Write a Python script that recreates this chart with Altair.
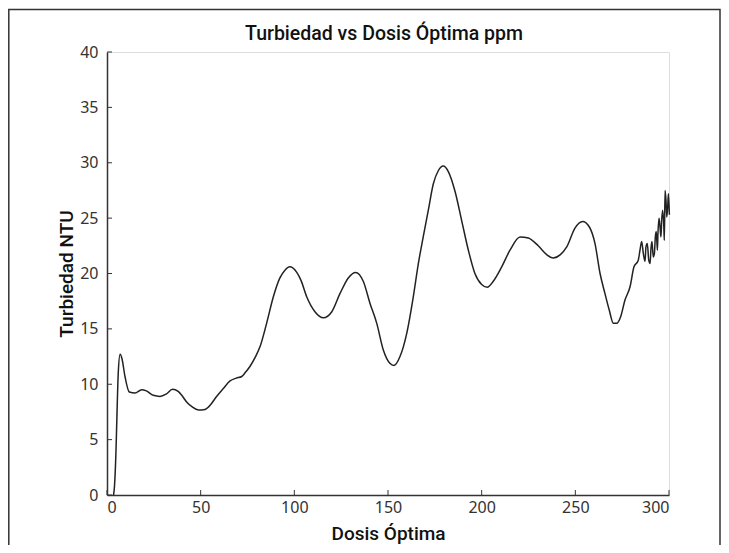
import altair as alt
import pandas as pd

# Dosis Óptima (ppm) and Turbiedad (NTU)
dosis = [3.5, 4.0, 4.8, 5.3, 6.0, 7.0, 8.0, 9.6, 11.9, 15.0, 18.5, 21.0, 24.7, 28.3,
         31.5, 35.0, 38.0, 39.9, 42.5, 45.5, 48.8, 52.3, 55.5, 58.5, 62.0, 65.7, 69.0,
         71.9, 74.0, 76.3, 79.0, 81.7, 85.2, 88.8, 92.3, 95.0, 97.5, 101.3, 103.5, 106.6,
         111.0, 115.5, 120.0, 124.4, 128.8, 132.7, 136.8, 140.4, 144.0, 147.5, 151.0,
         153.2, 156.4, 160.0, 163.5, 166.2, 168.8, 171.5, 174.2, 176.9, 179.5, 182.2,
         185.8, 189.3, 192.9, 196.4, 200.0, 203.0, 206.2, 210.7, 215.1, 220.5, 224.9,
         230.2, 234.7, 238.2, 242.0, 245.4, 249.8, 253.9, 257.5, 260.5, 263.2, 265.8,
         268.1, 270.3, 272.1, 274.2, 276.5, 279.2, 281.3,
         283.6, 284.5, 285.4, 286.3, 287.2, 287.7, 288.4, 289.2, 289.9, 290.4, 290.9,
         291.6, 292.2, 292.7, 293.2, 293.8, 294.1, 294.7, 295.2, 295.7, 296.1, 296.6,
         297.2, 297.5, 297.9, 298.4, 298.8, 299.3, 299.7, 300.2]
turbiedad = [0.0, 0.8, 4.0, 7.1, 11.0, 12.7, 12.3, 10.7, 9.3, 9.2, 9.5, 9.4, 9.0, 8.9,
             9.1, 9.55, 9.35, 9.0, 8.4, 7.95, 7.67, 7.73, 8.2, 8.9, 9.6, 10.3, 10.55,
             10.7, 11.1, 11.6, 12.4, 13.4, 15.5, 17.9, 19.6, 20.3, 20.6, 20.1, 19.4, 17.9,
             16.55, 16.0, 16.55, 18.2, 19.6, 20.1, 19.3, 17.3, 15.5, 13.1, 11.9,
             11.7, 12.5, 14.6, 17.9, 20.9, 23.3, 25.7, 28.1, 29.3, 29.7, 29.2,
             27.4, 24.8, 22.1, 20.0, 19.0, 18.75, 19.3, 20.6, 22.1, 23.3, 23.2,
             22.5, 21.7, 21.4, 21.7, 22.4, 24.1, 24.7, 24.2, 22.7, 20.0, 18.2,
             16.7, 15.5, 15.5, 16.1, 17.6, 18.8, 20.6,
             21.2, 22.1, 22.9, 21.8, 21.1, 22.4, 22.7, 21.2, 20.9, 22.3, 22.9,
             21.5, 21.8, 23.3, 23.8, 22.1, 23.6, 25.0, 24.2, 23.3, 24.8, 25.7,
             24.4, 23.0, 27.5, 26.6, 25.1, 26.0, 27.2, 25.3]

x_ticks = [0, 50, 100, 150, 200, 250, 300]
y_ticks = [0, 5, 10, 15, 20, 25, 30, 35, 40]
title_text = "Turbiedad vs Dosis Óptima ppm"

W, H = 562, 443
PAD_L, PAD_T = 99, 44
CANVAS_W, CANVAS_H = 713, 537
INK = "#333333"
LABEL_FONT = "Noto Sans"
TITLE_FONT = "Roboto"

df = pd.DataFrame({"dosis": dosis, "turbiedad": turbiedad})

xscale = alt.Scale(domain=[0, 300], nice=False)
yscale = alt.Scale(domain=[0, 40], nice=False)

line = alt.Chart(df).mark_line(color="#222222", strokeWidth=1.5, interpolate="monotone").encode(
    x=alt.X("dosis:Q", scale=xscale,
            axis=alt.Axis(title="Dosis Óptima", values=x_ticks, ticks=False, grid=False,
                          domainColor=INK, domainWidth=1.5, labelFont=LABEL_FONT,
                          labelFontSize=16, labelColor=INK, labelPadding=4,
                          titleFont=TITLE_FONT, titleFontSize=19, titleFontWeight=500,
                          titleColor="#111111", titlePadding=9)),
    y=alt.Y("turbiedad:Q", scale=yscale,
            axis=alt.Axis(title="Turbiedad NTU", values=y_ticks, ticks=False, grid=False,
                          domainColor=INK, domainWidth=1.5, labelFont=LABEL_FONT,
                          labelFontSize=16, labelColor=INK, labelPadding=9,
                          titleFont=TITLE_FONT, titleFontSize=19, titleFontWeight=500,
                          titleColor="#111111", titlePadding=3)),
)

xt = alt.Chart(pd.DataFrame({"v": x_ticks})).mark_rule(color=INK, strokeWidth=1).encode(
    x=alt.X("v:Q", scale=xscale), y=alt.value(H), y2=alt.value(H - 5))
yt = alt.Chart(pd.DataFrame({"v": y_ticks})).mark_rule(color=INK, strokeWidth=1).encode(
    y=alt.Y("v:Q", scale=yscale), x=alt.value(0), x2=alt.value(5))

border = alt.Chart(pd.DataFrame({"a": [0]})).mark_rect(
    fill="transparent", stroke=INK, strokeWidth=1.5).encode(
    x=alt.value(-PAD_L + 0.8), x2=alt.value(CANVAS_W - PAD_L - 1),
    y=alt.value(-PAD_T + 1.5), y2=alt.value(CANVAS_H + 40))

title = alt.Chart(pd.DataFrame({"t": [title_text]})).mark_text(
    font=TITLE_FONT, fontSize=19.5, fontWeight=500, color="#111111",
    align="center", baseline="alphabetic").encode(
    text="t:N", x=alt.value(W / 2 - 4), y=alt.value(-12))

chart = alt.layer(border, line, xt, yt, title).properties(
    width=W, height=H,
    autosize=alt.AutoSizeParams(type="none"),
    padding={"left": PAD_L, "top": PAD_T,
             "right": CANVAS_W - PAD_L - W, "bottom": CANVAS_H - PAD_T - H},
).configure_view(stroke=None).configure(background="white")

chart.save("out.html", embed_options={"renderer": "svg", "actions": False})
